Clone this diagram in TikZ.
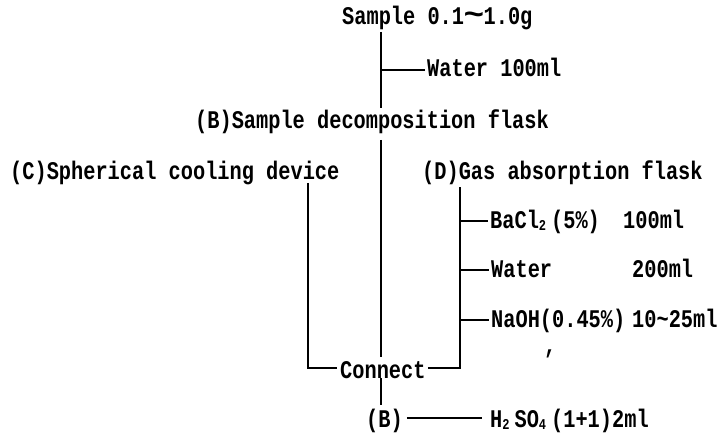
\documentclass[tikz,border=0pt]{standalone}
\usepackage{fontspec}
\setmainfont{Liberation Mono}[FakeStretch=0.8]
\newcommand\subd[1]{\rlap{\raisebox{-0.15ex}{\fontsize{15pt}{15pt}\selectfont #1}}\phantom{0}}
\newcommand\wave{\textasciitilde}
\newcommand\bigwave{\makebox[1.6\fontcharwd\font`0][c]{\scalebox{1.7}[1.2]{\textasciitilde}}}
\begin{document}
\begin{tikzpicture}[x=1pt,y=-1pt,
  txt/.style={anchor=base west,inner sep=0pt,font=\fontsize{25.4pt}{30pt}\selectfont\bfseries},
  ln/.style={line width=1.7pt},
  br/.style={line width=1.3pt}]
\useasboundingbox[fill=white] (0,0) rectangle (718,433);
% texts
\node[txt] (sample) at (342,25) {Sample 0.1\bigwave1.0g};
\node[txt] (water1) at (427,77) {Water 100ml};
\node[txt] (flaskB) at (195,129) {(B)Sample decomposition flask};
\node[txt] (cool) at (10,179) {(C)Spherical cooling device};
\node[txt] (gasD) at (422,179) {(D)Gas absorption flask};
\node[txt] (bacl) at (490,228) {BaCl\subd{2}(5\%)};
\node[txt] (baclamt) at (623,228) {100ml};
\node[txt] (water2) at (491,277) {Water};
\node[txt] (wateramt) at (632,277) {200ml};
\node[txt] (naoh) at (491,327) {NaOH(0.45\%)};
\node[txt] (naohamt) at (632,327) {10\wave25ml};
\node[txt] (comma) at (544,353) {,};
\node[txt] (connect) at (340,378) {Connect};
\node[txt] (B2) at (366,427) {(B)};
\node[txt] (h2so4) at (490,427) {H\subd{2}SO\subd{4}(1+1)2ml};
% junction coordinates
\coordinate (tA) at (381,32);
\coordinate (jW) at (381,70);
\coordinate (tB) at (381,108);
\coordinate (tC) at (381,140);
\coordinate (tD) at (381,357);
\coordinate (lA) at (308,183);
\coordinate (lB) at (308,368);
\coordinate (rA) at (460,187);
\coordinate (rB) at (460,368);
\coordinate (jBa) at (460,221);
\coordinate (jWa) at (460,270);
\coordinate (jNa) at (460,320);
\coordinate (bA) at (381,378);
\coordinate (bB) at (381,405);
% connectors
\draw[ln] (tA) -- (tB);
\draw[br] (jW) -- ([xshift=-2pt]water1.west |- jW);
\draw[ln] (tC) -- (tD);
\draw[ln] (lA) -- (lB) -- ([xshift=-3pt]connect.west |- lB);
\draw[ln] ([xshift=2pt]connect.east |- rB) -- (rB) -- (rA);
\draw[br] (jBa) -- ([xshift=-2pt]bacl.west |- jBa);
\draw[br] (jWa) -- ([xshift=-2pt]water2.west |- jWa);
\draw[br] (jNa) -- ([xshift=-2pt]naoh.west |- jNa);
\draw[ln] (bA) -- (bB);
\draw[br] ([xshift=4pt,yshift=9pt]B2.base east) -- ([xshift=-8pt,yshift=9pt]h2so4.base west);
\end{tikzpicture}
\end{document}
